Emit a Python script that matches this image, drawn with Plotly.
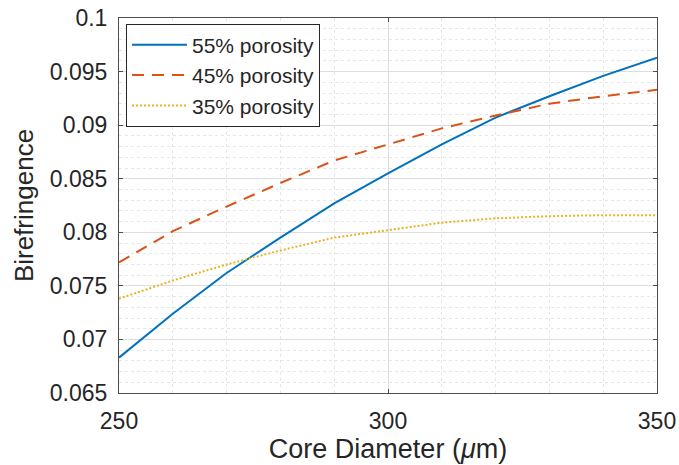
import plotly.graph_objects as go

diameter = [250, 260, 270, 280, 290, 300, 310, 320, 330, 340, 350]
p55 = [0.0683, 0.0724, 0.0762, 0.0795, 0.0827, 0.0855, 0.0882, 0.0907, 0.0927, 0.0946, 0.0963]
p45 = [0.0772, 0.0801, 0.0824, 0.0846, 0.0867, 0.0882, 0.0897, 0.0909, 0.0920, 0.0927, 0.0933]
p35 = [0.0738, 0.0755, 0.0770, 0.0783, 0.0795, 0.0802, 0.0809, 0.0813, 0.0815, 0.0816, 0.0816]
names = ["55% porosity", "45% porosity", "35% porosity"]
ytickvals = [0.065, 0.07, 0.075, 0.08, 0.085, 0.09, 0.095, 0.1]
yticktext = ["0.065", "0.07", "0.075", "0.08", "0.085", "0.09", "0.095", "0.1"]
xtickvals = [250, 300, 350]

FONT = "Liberation Sans, Arial, sans-serif"
TXT = "#262626"

fig = go.Figure()
fig.add_trace(go.Scatter(x=diameter, y=p55, mode="lines", name=names[0],
                         line=dict(color="#0072BD", width=2)))
fig.add_trace(go.Scatter(x=diameter, y=p45, mode="lines", name=names[1],
                         line=dict(color="#D95319", width=2, dash="12px,8px")))
fig.add_trace(go.Scatter(x=diameter, y=p35, mode="lines", name=names[2],
                         line=dict(color="#EDB120", width=2, dash="2px,2px")))

axis_common = dict(
    showline=True, linecolor="#4d4d4d", linewidth=1, mirror="ticks",
    ticks="inside", ticklen=4, tickcolor="#4d4d4d",
    showgrid=True, gridcolor="#dedede", gridwidth=1,
    zeroline=False, automargin=False,
    tickfont=dict(family=FONT, size=23, color=TXT),
)

fig.update_xaxes(
    range=[250, 350], tickvals=xtickvals,
    title=dict(text="Core Diameter (<i>μ</i>m)", font=dict(family=FONT, size=27, color=TXT), standoff=4),
    minor=dict(dtick=10, tick0=250, showgrid=True, gridcolor="#e6e6e6", griddash="dot", ticks=""),
    ticklabelstandoff=7,
    **axis_common,
)
fig.update_yaxes(
    range=[0.065, 0.1], tickvals=ytickvals, ticktext=yticktext,
    title=dict(text="Birefringence", font=dict(family=FONT, size=26, color=TXT), standoff=8),
    minor=dict(dtick=0.001, tick0=0.065, showgrid=True, gridcolor="#e6e6e6", griddash="dot", ticks=""),
    ticklabelstandoff=6,
    **axis_common,
)

fig.update_layout(
    width=679, height=465,
    margin=dict(l=119, r=22, t=18, b=72),
    plot_bgcolor="white", paper_bgcolor="white",
    font=dict(family=FONT, color=TXT),
    legend=dict(x=0.013, y=0.985, xanchor="left", yanchor="top",
                bgcolor="white", bordercolor="#262626", borderwidth=1,
                font=dict(family=FONT, size=21, color=TXT),
                itemwidth=55, tracegroupgap=0),
    showlegend=True,
)

fig.write_html("out.html")
